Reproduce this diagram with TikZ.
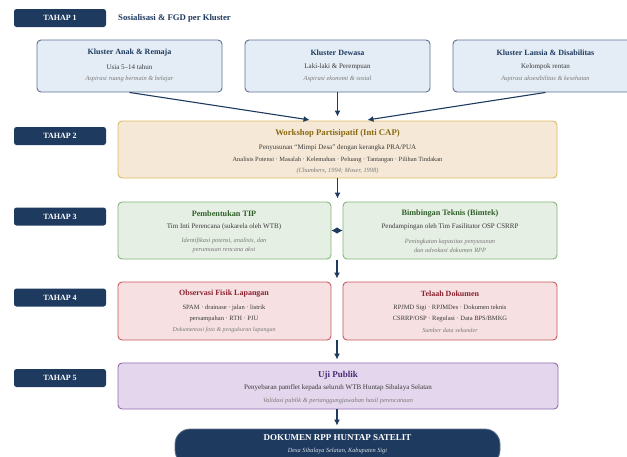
\documentclass[tikz,border=0pt]{standalone}
\usepackage{fontspec}
\setmainfont{Liberation Serif}
\usetikzlibrary{arrows.meta}
\definecolor{navy}{HTML}{1E3A5F}
\definecolor{kfill}{HTML}{E4EDF6}
\definecolor{kdraw}{HTML}{5C7190}
\definecolor{wfill}{HTML}{F5E8D6}
\definecolor{wdraw}{HTML}{DFB863}
\definecolor{wtext}{HTML}{8A6A12}
\definecolor{gfill}{HTML}{E6EFE4}
\definecolor{gdraw}{HTML}{82B37A}
\definecolor{gtext}{HTML}{2F5F2A}
\definecolor{rfill}{HTML}{F6E0E2}
\definecolor{rdraw}{HTML}{C9595E}
\definecolor{rtext}{HTML}{8A2230}
\definecolor{pfill}{HTML}{E4D6EC}
\definecolor{pdraw}{HTML}{8E6BB0}
\definecolor{ptext}{HTML}{4A2C7A}
\definecolor{body}{HTML}{3A3A3A}
\definecolor{ital}{HTML}{7A7A7A}
\newcommand{\fs}[1]{\fontsize{#1}{#1}\selectfont}
\tikzset{
  tahap/.style={fill=navy, rounded corners=2.5pt, minimum width=92pt, minimum height=18pt, text=white, font=\bfseries\fs{8}, inner sep=0pt},
  box/.style={rounded corners=4pt, line width=0.9pt, inner sep=0pt},
  kbox/.style={box, fill=kfill, draw=kdraw, minimum width=185pt, minimum height=52pt},
  ttl/.style={font=\bfseries\fs{8}, inner sep=0pt},
  bod/.style={font=\fs{7}, text=body, inner sep=0pt},
  itl/.style={font=\itshape\fs{6.4}, text=ital, inner sep=0pt},
  arr/.style={draw=navy, line width=1.1pt, -{Latex[length=6pt,width=6pt]}},
}
\begin{document}
\begin{tikzpicture}[x=1pt,y=-1pt]
\useasboundingbox (0,0) rectangle (627,456);
\clip (0,0) rectangle (627,456);
% Tahap 1
\node[tahap] (t1) at (60,18) {TAHAP 1};
\node[ttl, anchor=west, text=navy, font=\bfseries\fs{8.7}] (s1) at (118,18) {Sosialisasi \& FGD per Kluster};
\node[kbox] (k1) at (129.5,66) {};
\node[kbox] (k2) at (337.5,66) {};
\node[kbox] (k3) at (545.5,66) {};
\node[ttl, text=navy] (k1a) at (129.5,53) {Kluster Anak \& Remaja};
\node[bod] (k1b) at (129.5,67) {Usia 5–14 tahun};
\node[itl] (k1c) at (129.5,79) {Aspirasi ruang bermain \& belajar};
\node[ttl, text=navy] (k2a) at (337.5,53) {Kluster Dewasa};
\node[bod] (k2b) at (337.5,67) {Laki-laki \& Perempuan};
\node[itl] (k2c) at (337.5,79) {Aspirasi ekonomi \& sosial};
\node[ttl, text=navy] (k3a) at (545.5,53) {Kluster Lansia \& Disabilitas};
\node[bod] (k3b) at (545.5,67) {Kelompok rentan};
\node[itl] (k3c) at (545.5,79) {Aspirasi aksesibilitas \& kesehatan};
% Tahap 2
\node[tahap] (t2) at (60,136) {TAHAP 2};
\node[box, fill=wfill, draw=wdraw, minimum width=439pt, minimum height=57pt] (w) at (337.5,149.5) {};
\node[ttl, text=wtext, font=\bfseries\fs{8.7}] (wa) at (337.5,133) {Workshop Partisipatif (Inti CAP)};
\node[bod] (wb) at (337.5,148) {Penyusunan “Mimpi Desa” dengan kerangka PRA/PUA};
\node[bod, font=\fs{6.4}] (wc) at (337.5,160) {Analisis Potensi · Masalah · Kelemahan · Peluang · Tantangan · Pilihan Tindakan};
\node[itl] (wd) at (337.5,171) {(Chambers, 1994; Moser, 1998)};
\draw[arr, shorten >=4pt] (k1.south) -- ([xshift=-24pt]w.north);
\draw[arr, shorten >=4pt] (k2.south) -- (w.north);
\draw[arr, shorten >=4pt] (k3.south) -- ([xshift=26pt]w.north);
% Tahap 3
\node[tahap] (t3) at (60,216.5) {TAHAP 3};
\node[box, fill=gfill, draw=gdraw, minimum width=213pt, minimum height=57pt] (g1) at (224.5,230.5) {};
\node[box, fill=gfill, draw=gdraw, minimum width=214pt, minimum height=57pt] (g2) at (450,230.5) {};
\node[ttl, text=gtext, font=\bfseries\fs{8.2}] (g1a) at (224,214) {Pembentukan TIP};
\node[bod] (g1b) at (224,227) {Tim Inti Perencana (sukarela oleh WTB)};
\node[itl, align=center] (g1c) at (224,245.5) {Identifikasi potensi, analisis, dan\\[2.3pt]perumusan rencana aksi};
\node[ttl, text=gtext, font=\bfseries\fs{8.2}] (g2a) at (450,214) {Bimbingan Teknis (Bimtek)};
\node[bod] (g2b) at (450,227) {Pendampingan oleh Tim Fasilitator OSP CSRRP};
\node[itl, align=center] (g2c) at (450,245.5) {Peningkatan kapasitas penyusunan\\[2.3pt]dan advokasi dokumen RPP};
\draw[arr, shorten >=3pt] (w.south) -- (g1.north -| w.south);
\draw[draw=navy, line width=1.1pt, {Latex[length=5.5pt,width=6.5pt]}-{Latex[length=5.5pt,width=6.5pt]}] (g1.east) -- (g2.west);
% Tahap 4
\node[tahap] (t4) at (60,297.5) {TAHAP 4};
\node[box, fill=rfill, draw=rdraw, minimum width=213pt, minimum height=58pt] (r1) at (224.5,311) {};
\node[box, fill=rfill, draw=rdraw, minimum width=214pt, minimum height=58pt] (r2) at (450,311) {};
\node[ttl, text=rtext] (r1a) at (224,294) {Observasi Fisik Lapangan};
\node[bod, font=\fs{6.5}] (r1b) at (224,307.5) {SPAM · drainase · jalan · listrik};
\node[bod, font=\fs{6.5}] (r1c) at (224,318.5) {persampahan · RTH · PJU};
\node[itl, font=\itshape\fs{6}] (r1d) at (224,330) {Dokumentasi foto \& pengukuran lapangan};
\node[ttl, text=rtext] (r2a) at (450,294) {Telaah Dokumen};
\node[bod, font=\fs{6.5}] (r2b) at (450,307.5) {RPJMD Sigi · RPJMDes · Dokumen teknis};
\node[bod, font=\fs{6.5}] (r2c) at (450,318.5) {CSRRP/OSP · Regulasi · Data BPS/BMKG};
\node[itl, font=\itshape\fs{6.2}] (r2d) at (450,330) {Sumber data sekunder};
\coordinate (c3) at (337,259.5);
\draw[arr, shorten >=3pt] (c3) -- (c3 |- r1.north);
% Tahap 5
\node[tahap] (t5) at (60,378) {TAHAP 5};
\node[box, fill=pfill, draw=pdraw, minimum width=440pt, minimum height=46pt] (p) at (338,386) {};
\node[ttl, text=ptext, font=\bfseries\fs{9}] (pa) at (338,375) {Uji Publik};
\node[bod] (pb) at (338,388) {Penyebaran pamflet kepada seluruh WTB Huntap Sibalaya Selatan};
\node[itl] (pc) at (338,400.5) {Validasi publik \& pertanggungjawaban hasil perencanaan};
\coordinate (c4) at (337,340);
\draw[arr, shorten >=3pt] (c4) -- (c4 |- p.north);
% Final
\node[fill=navy, draw=navy!70, line width=0.8pt, rounded corners=15pt, minimum width=325pt, minimum height=36pt, inner sep=0pt] (f) at (337.5,447) {};
\node[ttl, text=white, font=\bfseries\fs{9}] (fa) at (337.5,438) {DOKUMEN RPP HUNTAP SATELIT};
\node[itl, text=white!85!navy, font=\itshape\fs{6.3}] (fb) at (337.5,451) {Desa Sibalaya Selatan, Kabupaten Sigi};
\draw[arr, shorten >=3pt] (p.south -| c4) -- (f.north -| c4);
\end{tikzpicture}
\end{document}
